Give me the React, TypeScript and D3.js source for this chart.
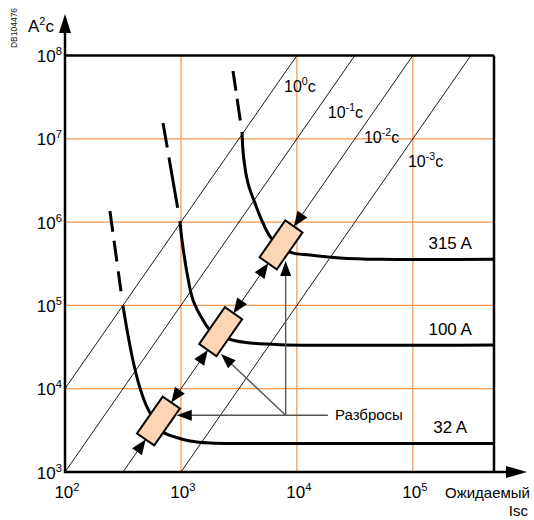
import React from "react";
import * as d3 from "d3";

// ---------- data (I in A, I²t in A²s) ----------
const xTicks = [1e2, 1e3, 1e4, 1e5];
const xTickExp = ["2", "3", "4", "5"];
const yTicks = [1e3, 1e4, 1e5, 1e6, 1e7, 1e8];
const yTickExp = ["3", "4", "5", "6", "7", "8"];
const gridX = [1e3, 1e4, 1e5];
const gridY = [1e4, 1e5, 1e6, 1e7];

const timeLines = [1, 0.1, 0.01, 0.001];
const timeExp = ["0", "-1", "-2", "-3"];
const timeLabelPos: [number, number][] = [
  [7745, 3.6e7],
  [1.85e4, 1.78e7],
  [3.79e4, 8.9e6],
  [9.08e4, 4.58e6],
];

const fuseLabels = ["32 A", "100 A", "315 A"];
const dashTops: [number, number][] = [
  [244, 1.36e6],
  [700, 1.55e7],
  [2811, 6.52e7],
];
const curve32A: [number, number][] = [
  [316, 1.0e5], [349, 4.42e4], [385, 2.21e4], [435, 1.11e4], [500, 6370],
  [574, 4450], [700, 3020], [889, 2630], [1197, 2355], [1782, 2228],
  [3945, 2200], [5.01e5, 2200],
];
const curve100A: [number, number][] = [
  [980, 1.03e6], [1021, 6.1e5], [1128, 2.45e5], [1270, 1.16e5], [1549, 6.68e4],
  [1853, 4.8e4], [2755, 3.85e4], [3945, 3.54e4], [7140, 3.38e4], [5.01e5, 3.35e4],
];
const curve315A: [number, number][] = [
  [3363, 1.21e7], [3462, 6.22e6], [3784, 2.94e6], [4350, 1.69e6], [5100, 9.75e5],
  [6100, 6.27e5], [8710, 4.37e5], [1.297e4, 4.03e5], [2.355e4, 3.71e5],
  [5.2e4, 3.57e5], [5.01e5, 3.57e5],
];
const fuseCurves = [curve32A, curve100A, curve315A];
const fuseLabelI = 2.1e5;

const spreadTime = 0.01;
const boxCenterI = [640, 2200, 7300];

const spreadJunction: [number, number] = [8000, 4800];
const spreadTips: [number, number][] = [
  [920, 4800],
  [2213, 2.61e4],
  [8000, 3.41e5],
];
const spreadLabelEndI = 1.85e4;
const spreadLabelI = 2.13e4;
const spreadLabel = "Разбросы";

// ---------- layout / style ----------
const W = 534;
const H = 520;
const X0 = 65, X1 = 494, Y0 = 472, Y1 = 55.5;
const FONT = "'Liberation Sans', Arial, Helvetica, sans-serif";
const ORANGE = "#F5964C";
const BOX_FILL = "#FCD5B4";
const dashPatterns = ["21 9 21 10 20 14", "25 10 51 16", "20 8 22 14"];

type P = [number, number];

function arrowPath(tip: P, dir: P, L: number, Wd: number) {
  const len = Math.hypot(dir[0], dir[1]);
  const ux = dir[0] / len, uy = dir[1] / len;
  const bx = tip[0] - ux * L, by = tip[1] - uy * L;
  const nx = -uy, ny = ux;
  return `M${tip[0]},${tip[1]}L${bx + nx * Wd / 2},${by + ny * Wd / 2}L${bx - nx * Wd / 2},${by - ny * Wd / 2}Z`;
}

function Pow({ x, y, exp, anchor, size = 17, suffix = "" }: any) {
  return (
    <text x={x} y={y} textAnchor={anchor} fontSize={size} fontFamily={FONT} fill="#000">
      10
      <tspan dy={-7} fontSize={size * 0.66}>{exp}</tspan>
      {suffix ? <tspan dy={7}>{suffix}</tspan> : null}
    </text>
  );
}

export default function App() {
  const xMax = Math.pow(10, 5.7);
  const x = d3.scaleLog().domain([1e2, xMax]).range([X0, X1]);
  const y = d3.scaleLog().domain([1e3, 1e8]).range([Y0, Y1]);
  const px = (d: P): P => [x(d[0]), y(d[1])];

  const line = d3
    .line<P>()
    .x((d) => x(d[0]))
    .y((d) => y(d[1]))
    .curve(d3.curveCatmullRom.alpha(0.5));
  const straight = d3.line<P>().x((d) => x(d[0])).y((d) => y(d[1]));

  // time lines
  const tLines = timeLines.map((t) => {
    const i0 = Math.max(1e2, Math.sqrt(1e3 / t));
    const i1 = Math.min(xMax, Math.sqrt(1e8 / t));
    return [[i0, i0 * i0 * t], [i1, i1 * i1 * t]] as P[];
  });

  // spread line direction
  const a = px([1e3, 1e6 * spreadTime]);
  const b = px([1e4, 1e8 * spreadTime]);
  const dx = b[0] - a[0], dy = b[1] - a[1];
  const dl = Math.hypot(dx, dy);
  const u: P = [dx / dl, dy / dl];
  const angle = (Math.atan2(dy, dx) * 180) / Math.PI;
  const BL = 45, BW = 21;
  const boxes = boxCenterI.map((i) => px([i, i * i * spreadTime]));

  const J = px(spreadJunction);

  return (
    <svg width={W} height={H} style={{ position: "absolute", left: 0, top: 0, background: "#fff" }}>
      {/* grid */}
      {gridX.map((g, i) => (
        <line key={"gx" + i} x1={x(g)} x2={x(g)} y1={Y0} y2={Y1} stroke={ORANGE} strokeWidth={1.2} />
      ))}
      {gridY.map((g, i) => (
        <line key={"gy" + i} x1={X0} x2={X1} y1={y(g)} y2={y(g)} stroke={ORANGE} strokeWidth={1.2} />
      ))}

      {/* constant time lines */}
      {tLines.map((l, i) => (
        <path key={"t" + i} d={straight(l) || ""} stroke="#000" strokeWidth={0.9} fill="none" />
      ))}
      {timeLabelPos.map((p, i) => (
        <Pow key={"tl" + i} x={x(p[0])} y={y(p[1])} exp={timeExp[i]} anchor="start" size={16} suffix="c" />
      ))}

      {/* fuse curves */}
      {fuseCurves.map((c, i) => (
        <g key={"c" + i}>
          <path
            d={straight([dashTops[i], c[0]]) || ""}
            stroke="#000"
            strokeWidth={3}
            fill="none"
            strokeDasharray={dashPatterns[i]}
          />
          <path d={line(c) || ""} stroke="#000" strokeWidth={3} fill="none" />
          <text
            x={x(fuseLabelI)}
            y={y(c[c.length - 1][1]) - 10}
            textAnchor="middle"
            fontSize={17}
            fontFamily={FONT}
          >
            {fuseLabels[i]}
          </text>
        </g>
      ))}

      {/* spread arrows along the 10^-2 s line */}
      {boxes.map((c, i) => {
        const up: P = [c[0] + u[0] * BL / 2, c[1] + u[1] * BL / 2];
        const lo: P = [c[0] - u[0] * BL / 2, c[1] - u[1] * BL / 2];
        return (
          <g key={"ah" + i}>
            <path d={arrowPath(up, [-u[0], -u[1]], 15, 12)} fill="#000" />
            <path d={arrowPath(lo, u, 15, 12)} fill="#000" />
          </g>
        );
      })}

      {/* spread pointers */}
      {spreadTips.map((t, i) => {
        const T = px(t);
        const ddx = T[0] - J[0], ddy = T[1] - J[1];
        const L = Math.hypot(ddx, ddy);
        const E: P = [T[0] - (ddx / L) * 12, T[1] - (ddy / L) * 12];
        return (
          <g key={"sp" + i}>
            <line x1={J[0]} y1={J[1]} x2={E[0]} y2={E[1]} stroke="#555" strokeWidth={1.4} />
          </g>
        );
      })}
      <line
        x1={J[0]}
        y1={J[1]}
        x2={x(spreadLabelEndI)}
        y2={J[1]}
        stroke="#555"
        strokeWidth={1.4}
      />
      <text x={x(spreadLabelI)} y={J[1] + 5} fontSize={15} fontFamily={FONT}>
        {spreadLabel}
      </text>

      {/* boxes */}
      {boxes.map((c, i) => (
        <rect
          key={"b" + i}
          x={-BL / 2}
          y={-BW / 2}
          width={BL}
          height={BW}
          transform={`translate(${c[0]},${c[1]}) rotate(${angle})`}
          fill={BOX_FILL}
          stroke="#000"
          strokeWidth={2}
        />
      ))}
      {spreadTips.map((t, i) => {
        const T = px(t);
        return <path key={"sa" + i} d={arrowPath(T, [T[0] - J[0], T[1] - J[1]], 15, 11)} fill="#000" />;
      })}

      {/* frame and axes */}
      <line x1={X0} x2={X1} y1={Y1} y2={Y1} stroke="#000" strokeWidth={2.5} />
      <line x1={X1} x2={X1} y1={Y1} y2={Y0} stroke="#000" strokeWidth={2.5} />
      <line x1={X0} x2={X0} y1={Y0 + 1} y2={30} stroke="#000" strokeWidth={2.5} />
      <line x1={X0 - 1} x2={510} y1={Y0} y2={Y0} stroke="#000" strokeWidth={2.5} />
      <path d={arrowPath([X0, 14], [0, -1], 19, 12)} fill="#000" />
      <path d={arrowPath([527, Y0], [1, 0], 21, 12)} fill="#000" />

      {/* tick labels */}
      {yTicks.map((t, i) => (
        <Pow key={"yt" + i} x={62} y={y(t) + 6.5} exp={yTickExp[i]} anchor="end" />
      ))}
      {xTicks.map((t, i) => (
        <Pow key={"xt" + i} x={x(t) + 2} y={498} exp={xTickExp[i]} anchor="middle" />
      ))}

      {/* axis titles */}
      <text x={28} y={32} fontSize={17} fontFamily={FONT}>
        A<tspan dy={-7} fontSize={11}>2</tspan>
        <tspan dy={7}>c</tspan>
      </text>
      <text x={530} y={498} textAnchor="end" fontSize={15} fontFamily={FONT}>
        Ожидаемый
      </text>
      <text x={528} y={516} textAnchor="end" fontSize={15} fontFamily={FONT}>
        Isc
      </text>
      <text
        transform="translate(16.5,28) rotate(-90)"
        textAnchor="middle"
        fontSize={8.5}
        fontFamily={FONT}
        fill="#222"
      >
        DB104476
      </text>
    </svg>
  );
}
